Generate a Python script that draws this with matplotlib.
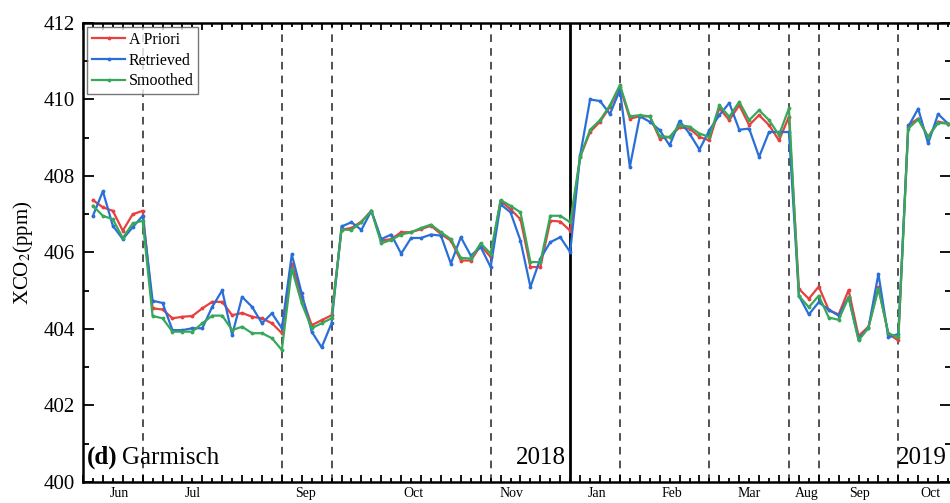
import matplotlib
matplotlib.use("Agg")
import matplotlib.pyplot as plt
import matplotlib.transforms as mtransforms
import numpy as np

plt.rcParams['font.family'] = ['Liberation Serif', 'DejaVu Serif']
plt.rcParams['mathtext.fontset'] = 'stix'

# XCO2 (ppm), one value per sounding day, Garmisch 2018 / 2019
apriori = [
    407.37, 407.18, 407.09, 406.57, 407.00, 407.09,
    404.54, 404.51, 404.28, 404.32, 404.34, 404.54, 404.71, 404.71, 404.36, 404.42, 404.32, 404.28, 404.15, 403.89,
    405.71, 404.84, 404.10, 404.23, 404.36,
    406.60, 406.64, 406.81, 407.09, 406.31, 406.35, 406.53, 406.53, 406.61, 406.70, 406.48, 406.31, 405.79, 405.79, 406.18, 405.88,
    407.35, 407.13, 406.87, 405.62, 405.62, 406.83, 406.81, 406.57,
    408.50, 409.15, 409.42, 409.81, 410.33,
    409.50, 409.56, 409.56, 408.98, 409.02, 409.27, 409.24, 409.02, 408.93,
    409.77, 409.46, 409.85, 409.33, 409.59, 409.33, 408.93, 409.55,
    405.05, 404.79, 405.11,
    404.50, 404.38, 405.02, 403.82, 404.06, 405.09, 403.87, 403.70,
    409.33, 409.50, 409.02, 409.42, 409.37,
]
retrieved = [
    406.96, 407.60, 406.70, 406.35, 406.66, 406.96,
    404.74, 404.68, 403.97, 403.97, 404.02, 404.02, 404.58, 405.01, 403.84, 404.84, 404.58, 404.15, 404.41, 404.02,
    405.95, 404.93, 403.93, 403.52, 404.15,
    406.68, 406.79, 406.59, 407.09, 406.35, 406.47, 405.97, 406.38, 406.38, 406.47, 406.44, 405.71, 406.40, 405.92, 406.14, 405.62,
    407.26, 407.05, 406.31, 405.10, 405.84, 406.27, 406.40, 406.01,
    408.54, 410.00, 409.96, 409.62, 410.25,
    408.24, 409.56, 409.42, 409.20, 408.80, 409.44, 409.11, 408.69, 409.20,
    409.59, 409.91, 409.21, 409.24, 408.50, 409.15, 409.15, 409.15,
    404.87, 404.38, 404.70,
    404.50, 404.35, 404.83, 403.74, 404.03, 405.44, 403.78, 403.87,
    409.29, 409.76, 408.85, 409.62, 409.37,
]
smoothed = [
    407.22, 406.96, 406.87, 406.38, 406.76, 406.83,
    404.34, 404.28, 403.93, 403.93, 403.93, 404.15, 404.35, 404.35, 403.97, 404.06, 403.89, 403.89, 403.76, 403.45,
    405.58, 404.67, 404.02, 404.15, 404.28,
    406.60, 406.59, 406.79, 407.09, 406.24, 406.33, 406.47, 406.53, 406.64, 406.73, 406.53, 406.35, 405.86, 405.84, 406.24, 405.97,
    407.37, 407.22, 407.05, 405.75, 405.75, 406.96, 406.96, 406.79,
    408.50, 409.21, 409.46, 409.85, 410.38,
    409.56, 409.59, 409.56, 409.04, 409.02, 409.33, 409.29, 409.11, 409.02,
    409.85, 409.55, 409.94, 409.46, 409.72, 409.46, 409.07, 409.77,
    404.87, 404.57, 404.87,
    404.30, 404.24, 404.83, 403.70, 404.03, 405.05, 403.89, 403.78,
    409.24, 409.48, 409.02, 409.39, 409.37,
]

# last sample index of each month (dashed) and of the year 2018 (solid)
month_ends = [5, 19, 24, 40, 53, 62, 70, 73, 81]
year_end = 48
months = ['Jun', 'Jul', 'Sep', 'Oct', 'Nov', 'Jan', 'Feb', 'Mar', 'Aug', 'Sep', 'Oct']
month_label_x = [2.7, 10.0, 21.4, 32.2, 42.1, 50.7, 58.2, 66.0, 71.8, 77.1, 84.2]

x = np.arange(len(apriori))

fig = plt.figure(figsize=(9.5, 5.03), dpi=100)
ax = fig.add_axes([83 / 950, 21 / 503, 868 / 950, 459 / 503])

series = [(apriori, 'A Priori', '#e8403f'),
          (retrieved, 'Retrieved', '#2a6fd8'),
          (smoothed, 'Smoothed', '#37a85a')]
for vals, name, col in series:
    ax.plot(x, vals, color=col, lw=1.6, marker='.', ms=3.5, label=name)

for m in month_ends:
    ax.axvline(m, color='#222222', lw=1.1, ls=(0, (5, 4)), zorder=0)
ax.axvline(year_end, color='black', lw=2.0, zorder=0)

ax.set_xlim(-1, 86.3)
ax.set_ylim(400, 412)
ax.set_yticks(np.arange(400, 413, 2))
ax.set_yticks(np.arange(400, 413, 1), minor=True)
ax.set_xticks(np.arange(-1, 87, 2))
ax.set_xticks(np.arange(0, 87, 2), minor=True)
ax.tick_params(axis='both', which='both', direction='in', top=True, right=True, width=1.3)
ax.tick_params(axis='x', which='major', length=5, labelbottom=False)
ax.tick_params(axis='x', which='minor', length=3)
ax.tick_params(axis='y', which='major', length=8, labelsize=15, pad=6)
ax.tick_params(axis='y', which='minor', length=4)
for s in ax.spines.values():
    s.set_linewidth(1.8)

ax.set_ylabel('XCO$_2$(ppm)', fontsize=15, labelpad=6)

trans = mtransforms.blended_transform_factory(ax.transData, ax.transAxes)
for name, pos in zip(months, month_label_x):
    ax.text(pos, -0.011, name, transform=trans, ha='center', va='top', fontsize=10)

ax.text(0.005, 0.04, '(d)', transform=ax.transAxes, fontsize=18, fontweight='bold', va='baseline')
ax.text(0.045, 0.04, 'Garmisch', transform=ax.transAxes, fontsize=18, va='baseline')
ax.text(47.6, 0.04, '2018', transform=trans, fontsize=18, ha='right', va='baseline')
ax.text(85.9, 0.04, '2019', transform=trans, fontsize=18, ha='right', va='baseline')

leg = ax.legend(loc='upper left', fontsize=11.5, frameon=True, fancybox=False,
                borderpad=0.3, labelspacing=0.3, handlelength=2.1, handletextpad=0.2,
                borderaxespad=0.25)
leg.get_frame().set_edgecolor('#555555')
leg.get_frame().set_linewidth(1.0)

fig.savefig('out.png', dpi=100)
